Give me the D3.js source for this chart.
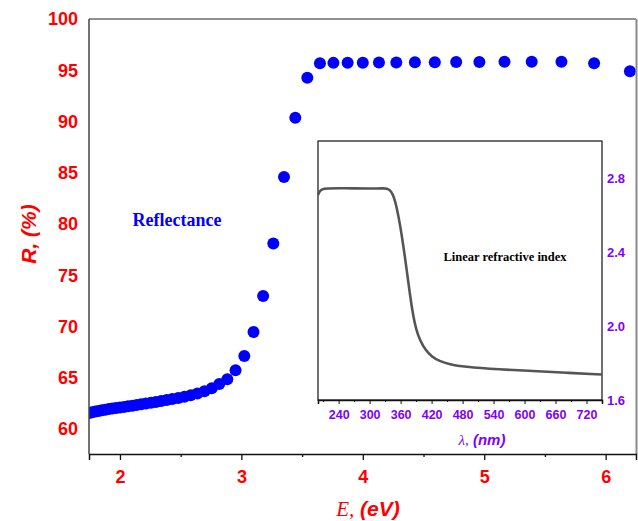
<!DOCTYPE html>
<html>
<head>
<meta charset="utf-8">
<script src="https://cdn.jsdelivr.net/npm/d3@7"></script>
<style>
  body { margin: 0; background: #fff; }
  svg { display: block; }
</style>
</head>
<body>
<div id="chart"></div>
<script>
// Reflectance points (photon energy in eV, R in %)
const energy = [
  6.200, 5.905, 5.636, 5.391, 5.167, 4.960, 4.769, 4.593, 4.429, 4.276,
  4.133, 4.000, 3.875, 3.758, 3.647, 3.543, 3.444, 3.351, 3.263, 3.179,
  3.100, 3.024, 2.952, 2.884, 2.818, 2.756, 2.696, 2.638, 2.583, 2.531,
  2.480, 2.431, 2.385, 2.340, 2.296, 2.255, 2.214, 2.175, 2.138, 2.102,
  2.067, 2.033, 2.000, 1.968, 1.938, 1.908, 1.879, 1.851, 1.824, 1.797,
  1.771, 1.746, 1.722, 1.699, 1.676, 1.653
];
const reflectance = [
  94.90, 95.68, 95.82, 95.82, 95.82, 95.80, 95.80, 95.78, 95.78, 95.76,
  95.76, 95.74, 95.74, 95.72, 95.68, 94.27, 90.37, 84.59, 78.10, 72.98,
  69.46, 67.12, 65.72, 64.86, 64.38, 63.97, 63.68, 63.47, 63.30, 63.15,
  63.03, 62.92, 62.82, 62.73, 62.64, 62.56, 62.48, 62.41, 62.34, 62.27,
  62.21, 62.15, 62.10, 62.05, 61.99, 61.94, 61.88, 61.82, 61.76, 61.70,
  61.63, 61.56, 61.49, 61.42, 61.35, 61.28
];

// Inset: linear refractive index vs wavelength
const wavelength = [200, 203, 208, 215, 250, 300, 330, 338, 345, 352, 360, 366, 372, 378, 384, 390, 398, 408, 420, 435, 455, 481, 552, 616, 681, 750];
const refIndex = [2.708, 2.728, 2.740, 2.744, 2.745, 2.742, 2.745, 2.740, 2.715, 2.65, 2.53, 2.42, 2.30, 2.17, 2.06, 1.98, 1.92, 1.87, 1.835, 1.81, 1.793, 1.78, 1.765, 1.757, 1.747, 1.738];

const xTicks = [2, 3, 4, 5, 6];
const xMinor = [2.5, 3.5, 4.5, 5.5];
const yTicks = [60, 65, 70, 75, 80, 85, 90, 95, 100];
const insetXTicks = [240, 300, 360, 420, 480, 540, 600, 660, 720];
const insetXMinor = [210, 270, 330, 390, 450, 510, 570, 630, 690, 750];
const insetYTicks = [1.6, 2.0, 2.4, 2.8];

const W = 638, H = 521;
const margin = { top: 19, right: 2, bottom: 67, left: 89 };

const svg = d3.select("#chart").append("svg")
  .attr("width", W)
  .attr("height", H);

const x = d3.scaleLinear().domain([1.745, 6.25]).range([margin.left, W - margin.right]);
const y = d3.scaleLinear().domain([57.56, 100]).range([H - margin.bottom, margin.top]);

svg.append("clipPath").attr("id", "plotClip")
  .append("rect")
  .attr("x", margin.left).attr("y", 0)
  .attr("width", W - margin.left).attr("height", H - margin.bottom);

// points
svg.append("g")
  .attr("clip-path", "url(#plotClip)")
  .selectAll("circle")
  .data(energy.map((e, i) => [e, reflectance[i]]))
  .enter()
  .append("circle")
  .attr("cx", (d) => x(d[0]))
  .attr("cy", (d) => y(d[1]))
  .attr("r", 6)
  .attr("fill", "#0000ff");

// frame
svg.append("line")
  .attr("x1", margin.left).attr("x2", W - margin.right)
  .attr("y1", margin.top).attr("y2", margin.top)
  .attr("stroke", "#222").attr("stroke-width", 1.2);
svg.append("line")
  .attr("x1", W - margin.right + 0.5).attr("x2", W - margin.right + 0.5)
  .attr("y1", margin.top).attr("y2", H - margin.bottom)
  .attr("stroke", "#8a8a8a").attr("stroke-width", 2);
svg.append("line")
  .attr("x1", margin.left).attr("x2", margin.left)
  .attr("y1", margin.top).attr("y2", H - margin.bottom)
  .attr("stroke", "#444").attr("stroke-width", 1.5);

// x axis
const xAxis = svg.append("g")
  .attr("transform", `translate(0,${H - margin.bottom})`)
  .call(d3.axisBottom(x).tickValues(xTicks).tickSize(6).tickPadding(10).tickFormat(d3.format("d")));
xAxis.select(".domain").attr("stroke", "#111").attr("stroke-width", 1.5);
xAxis.selectAll(".tick line").attr("stroke", "#111").attr("stroke-width", 1.3);
xAxis.selectAll("text")
  .attr("fill", "#ff0000")
  .style("font-family", "Arial, 'Liberation Sans', sans-serif")
  .style("font-weight", "bold")
  .style("font-size", "18px");

const xMinorAxis = svg.append("g")
  .attr("transform", `translate(0,${H - margin.bottom})`)
  .call(d3.axisBottom(x).tickValues(xMinor).tickSize(3).tickFormat(""));
xMinorAxis.select(".domain").remove();
xMinorAxis.selectAll(".tick line").attr("stroke", "#111").attr("stroke-width", 1.3);

// y axis
const yAxis = svg.append("g")
  .attr("transform", `translate(${margin.left},0)`)
  .call(d3.axisLeft(y).tickValues(yTicks).tickSize(0).tickPadding(11));
yAxis.select(".domain").remove();
yAxis.selectAll("text")
  .attr("fill", "#ff0000")
  .style("font-family", "Arial, 'Liberation Sans', sans-serif")
  .style("font-weight", "bold")
  .style("font-size", "18px");

// axis titles
svg.append("text")
  .attr("transform", "translate(28,234) rotate(-90)")
  .attr("text-anchor", "middle")
  .attr("dominant-baseline", "central")
  .attr("fill", "#ff0000")
  .style("font-family", "Arial, 'Liberation Sans', sans-serif")
  .style("font-weight", "bold")
  .style("font-style", "italic")
  .style("font-size", "21px")
  .text("R, (%)");

const xTitle = svg.append("text")
  .attr("x", 368)
  .attr("y", 516)
  .attr("text-anchor", "middle")
  .attr("fill", "#ff0000")
  .style("font-size", "21px")
  .style("font-style", "italic");
xTitle.append("tspan")
  .style("font-family", "'Times New Roman', 'Liberation Serif', serif")
  .text("E,");
xTitle.append("tspan")
  .style("font-family", "Arial, 'Liberation Sans', sans-serif")
  .style("font-weight", "bold")
  .text(" (eV)");

svg.append("text")
  .attr("x", 177)
  .attr("y", 226)
  .attr("text-anchor", "middle")
  .attr("fill", "#0000ff")
  .style("font-family", "'Times New Roman', 'Liberation Serif', serif")
  .style("font-weight", "bold")
  .style("font-size", "18px")
  .text("Reflectance");

// inset
const xi = d3.scaleLinear().domain([200, 750]).range([318, 602]);
const yi = d3.scaleLinear().domain([1.6, 3.0]).range([400, 141]);

svg.append("rect")
  .attr("x", 318).attr("y", 141)
  .attr("width", 602 - 318).attr("height", 400 - 141)
  .attr("fill", "#fff")
  .attr("stroke", "#111")
  .attr("stroke-width", 1.2);

const line = d3.line()
  .x((d) => xi(d[0]))
  .y((d) => yi(d[1]))
  .curve(d3.curveBasis);

svg.append("path")
  .datum(wavelength.map((w, i) => [w, refIndex[i]]))
  .attr("d", line)
  .attr("fill", "none")
  .attr("stroke", "#555")
  .attr("stroke-width", 2.6)
  .attr("stroke-linejoin", "round");

const purple = "#8000ff";

const xiAxis = svg.append("g")
  .attr("transform", "translate(0,400)")
  .call(d3.axisBottom(xi).tickValues(insetXTicks).tickSize(4).tickPadding(6).tickFormat(d3.format("d")));
xiAxis.select(".domain").attr("stroke", "#111").attr("stroke-width", 1.5);
xiAxis.selectAll(".tick line").attr("stroke", "#111");
xiAxis.selectAll("text")
  .attr("fill", purple)
  .style("font-family", "Arial, 'Liberation Sans', sans-serif")
  .style("font-weight", "bold")
  .style("font-size", "12.5px");

const xiMinor = svg.append("g")
  .attr("transform", "translate(0,400)")
  .call(d3.axisBottom(xi).tickValues(insetXMinor).tickSize(2).tickFormat(""));
xiMinor.select(".domain").remove();
xiMinor.selectAll(".tick line").attr("stroke", "#111");

const yiAxis = svg.append("g")
  .attr("transform", "translate(602,0)")
  .call(d3.axisRight(yi).tickValues(insetYTicks).tickSize(0).tickPadding(5).tickFormat(d3.format(".1f")));
yiAxis.select(".domain").remove();
yiAxis.selectAll("text")
  .attr("fill", purple)
  .style("font-family", "Arial, 'Liberation Sans', sans-serif")
  .style("font-weight", "bold")
  .style("font-size", "13px");

const liTitle = svg.append("text")
  .attr("x", 482)
  .attr("y", 445)
  .attr("text-anchor", "middle")
  .attr("fill", purple)
  .style("font-size", "15px")
  .style("font-style", "italic");
liTitle.append("tspan")
  .style("font-family", "'Times New Roman', 'Liberation Serif', serif")
  .text("λ,");
liTitle.append("tspan")
  .style("font-family", "Arial, 'Liberation Sans', sans-serif")
  .style("font-weight", "bold")
  .text(" (nm)");

svg.append("text")
  .attr("x", 505)
  .attr("y", 261)
  .attr("text-anchor", "middle")
  .attr("fill", "#000")
  .style("font-family", "'Times New Roman', 'Liberation Serif', serif")
  .style("font-weight", "bold")
  .style("font-size", "12.5px")
  .text("Linear refractive index");
</script>
</body>
</html>
